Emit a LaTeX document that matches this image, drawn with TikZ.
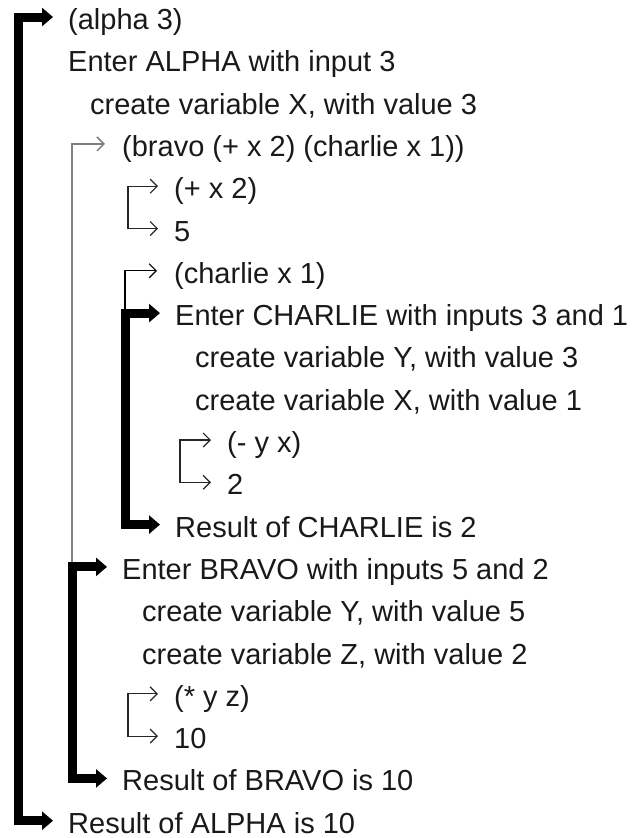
\documentclass[tikz,border=0pt]{standalone}
\usepackage{fontspec}
\setmainfont{Liberation Sans}
\usetikzlibrary{arrows.meta}

\tikzset{
  trace/.style={anchor=west,inner sep=0pt,text height=25pt,text depth=0pt,
    text=black!90,font=\fontsize{29}{34}\selectfont},
  callbar/.style={line width=9pt,line join=miter,draw=black,
    {Triangle[length=11pt,width=18pt]}-{Triangle[length=11pt,width=18pt]},
    shorten <=15pt,shorten >=15pt},
  callline/.style={line width=1.5pt,draw=gray,
    {Straight Barb[length=7pt,width=14pt]}-,shorten <=17pt},
  evalbracket/.style={line width=1.2pt,draw=black!85,line join=miter,
    {Straight Barb[length=7pt,width=14pt]}-{Straight Barb[length=7pt,width=14pt]},
    shorten <=16pt,shorten >=16pt}
}

\begin{document}
\begin{tikzpicture}[x=1pt,y=-42.3pt]
  \useasboundingbox (0,-0.402) rectangle (632,19.409);
  % columns of the bars
  \coordinate (barA) at (18,0);
  \coordinate (barB) at (72,0);
  \coordinate (barC) at (125,0);
  \coordinate (brkB) at (128,0);
  \coordinate (brkC) at (180,0);
  % trace lines
  \node[trace] (alphacall)     at (68,0)  {(alpha 3)};
  \node[trace] (alphaenter)    at (68,1)  {Enter ALPHA with input 3};
  \node[trace] (alphavarx)     at (90,2)  {create variable X, with value 3};
  \node[trace] (bravocall)     at (122,3) {(bravo (+ x 2) (charlie x 1))};
  \node[trace] (pluscall)      at (174,4) {(+ x 2)};
  \node[trace] (plusval)       at (174,5) {5};
  \node[trace] (charliecall)   at (174,6) {(charlie x 1)};
  \node[trace] (charlieenter)  at (175,7) {Enter CHARLIE with inputs 3 and 1};
  \node[trace] (charlievary)   at (195,8) {create variable Y, with value 3};
  \node[trace] (charlievarx)   at (195,9) {create variable X, with value 1};
  \node[trace] (minuscall)     at (227,10) {(- y x)};
  \node[trace] (minusval)      at (227,11) {2};
  \node[trace] (charlieresult) at (175,12) {Result of CHARLIE is 2};
  \node[trace] (bravoenter)    at (122,13) {Enter BRAVO with inputs 5 and 2};
  \node[trace] (bravovary)     at (142,14) {create variable Y, with value 5};
  \node[trace] (bravovarz)     at (142,15) {create variable Z, with value 2};
  \node[trace] (timescall)     at (174,16) {(* y z)};
  \node[trace] (timesval)      at (174,17) {10};
  \node[trace] (bravoresult)   at (122,18) {Result of BRAVO is 10};
  \node[trace] (alpharesult)   at (68,19) {Result of ALPHA is 10};
  % calls that lead into a function
  \draw[callline] (bravocall.west) -| (bravoenter.west -| barB);
  \draw[callline,draw=black,line width=1.2pt] (charliecall.west) -| (charlieenter.west -| barC);
  % evaluations
  \draw[evalbracket] (pluscall.west) -- (pluscall.west -| brkB) -- (plusval.west -| brkB) -- (plusval.west);
  \draw[evalbracket] (minuscall.west) -- (minuscall.west -| brkC) -- (minusval.west -| brkC) -- (minusval.west);
  \draw[evalbracket] (timescall.west) -- (timescall.west -| brkB) -- (timesval.west -| brkB) -- (timesval.west);
  % function bodies
  \draw[callbar] (alphacall.west) -- (alphacall.west -| barA) -- (alpharesult.west -| barA) -- (alpharesult.west);
  \draw[callbar] (bravoenter.west) -- (bravoenter.west -| barB) -- (bravoresult.west -| barB) -- (bravoresult.west);
  \draw[callbar] (charlieenter.west) -- (charlieenter.west -| barC) -- (charlieresult.west -| barC) -- (charlieresult.west);
\end{tikzpicture}
\end{document}
